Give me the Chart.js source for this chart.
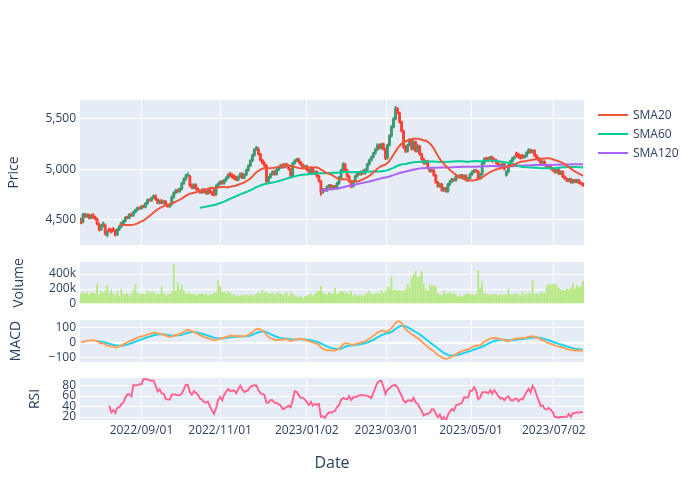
<!DOCTYPE html>
<html>
<head>
<meta charset="utf-8">
<script src="https://cdn.jsdelivr.net/npm/chart.js@4.4.0/dist/chart.umd.min.js"></script>
<style>
  body { margin: 0; background: #fff; }
  #wrap { position: relative; width: 700px; height: 500px; overflow: hidden; }
  #wrap canvas { position: absolute; left: 0; }
  #legend { position: absolute; left: 598px; top: 105px; font: 12px "Open Sans", verdana, arial, sans-serif; color: #2a3f5f; }
  #legend .item { height: 19px; display: flex; align-items: center; }
  #legend .swatch { width: 30px; height: 2px; margin-right: 5px; }
</style>
</head>
<body>
<div id="wrap">
  <canvas id="price" width="700" height="175" style="top:85px"></canvas>
  <canvas id="volume" width="700" height="72" style="top:247px"></canvas>
  <canvas id="macd" width="700" height="72" style="top:305px"></canvas>
  <canvas id="rsi" width="700" height="117" style="top:363px"></canvas>
  <div id="legend"></div>
</div>
<script>
// trading calendar (weekdays minus market holidays)
const firstDay = '2022-07-20';
const lastDay = '2023-07-21';
const holidays = ['2022-08-15', '2022-09-09', '2022-09-12', '2022-10-03', '2022-10-10', '2022-12-30',
  '2023-01-23', '2023-01-24', '2023-03-01', '2023-05-01', '2023-05-05', '2023-05-29', '2023-06-06'];

// daily prices
const opens = [
  4500,4475,4545,4530,4545,4515,4545,4525,4505,4450,
  4400,4435,4445,4345,4405,4400,4405,4390,4350,4400,
  4430,4460,4485,4520,4515,4550,4540,4575,4595,4615,
  4610,4630,4625,4660,4695,4690,4715,4735,4700,4665,
  4685,4665,4680,4645,4630,4650,4720,4765,4790,4780,
  4805,4860,4900,4935,4930,4840,4815,4845,4805,4785,
  4770,4795,4775,4760,4795,4770,4790,4750,4830,4855,
  4875,4860,4890,4915,4960,4945,4935,4920,4895,4925,
  4955,4915,4945,4990,5035,5085,5140,5195,5200,5150,
  5090,5060,5035,4880,4920,4950,4975,4950,4995,5015,
  5040,5020,5050,5030,5000,4930,5060,5085,5100,5070,
  5045,5020,5030,4995,4970,5005,4960,4975,4930,4880,
  4770,4800,4790,4825,4840,4805,4830,4810,4860,4920,
  4990,5050,4990,4930,4880,4830,4880,4930,4960,4950,
  4985,4960,4995,5050,5090,5120,5160,5195,5240,5210,
  5250,5200,5110,5240,5330,5420,5500,5600,5560,5470,
  5380,5220,5180,5240,5290,5200,5270,5180,5230,5150,
  5100,5060,5080,5010,4980,4990,4940,4870,4830,4850,
  4790,4810,4780,4850,4880,4900,4890,4930,4920,4940,
  4915,4935,4890,4910,4950,4975,4990,4980,4910,4950,
  5060,5110,5110,5100,5120,5100,5090,5060,5040,5020,
  5050,4940,4975,5040,5080,5110,5160,5150,5135,5140,
  5120,5130,5165,5190,5170,5185,5135,5110,5090,5060,
  5075,5040,5020,5030,5005,4990,4970,4995,4955,4975,
  4925,4905,4885,4900,4870,4890,4875,4890,4865,4855
];
const highs = [
  4515,4560,4560,4555,4555,4550,4560,4535,4515,4465,
  4450,4475,4455,4395,4415,4410,4420,4400,4410,4440,
  4475,4495,4530,4535,4560,4565,4585,4605,4625,4625,
  4640,4645,4670,4705,4705,4725,4745,4745,4710,4695,
  4700,4690,4690,4655,4660,4735,4775,4800,4805,4815,
  4870,4915,4950,4965,4940,4855,4855,4855,4815,4795,
  4805,4810,4785,4805,4805,4780,4800,4845,4865,4885,
  4890,4900,4925,4955,4970,4955,4945,4930,4935,4965,
  4965,4955,5000,5045,5095,5150,5205,5230,5215,5160,
  5100,5075,5045,4930,4960,4985,4990,5005,5025,5050,
  5055,5060,5060,5040,5010,5070,5095,5110,5110,5080,
  5055,5040,5040,5005,5015,5015,4985,4985,4940,4890,
  4810,4810,4835,4850,4850,4840,4840,4870,4930,5000,
  5065,5060,5000,4940,4890,4890,4940,4970,4970,4985,
  4995,5005,5060,5100,5130,5170,5205,5255,5250,5260,
  5260,5210,5250,5345,5435,5515,5625,5615,5570,5480,
  5390,5235,5250,5305,5300,5285,5280,5245,5240,5160,
  5110,5090,5090,5020,5000,5000,4950,4880,4860,4860,
  4820,4820,4860,4890,4910,4910,4940,4940,4950,4950,
  4945,4945,4920,4960,4985,5000,5000,4990,4960,5075,
  5115,5120,5120,5130,5130,5110,5100,5070,5050,5060,
  5060,4985,5050,5090,5120,5135,5170,5160,5145,5150,
  5140,5175,5205,5200,5195,5195,5145,5120,5100,5085,
  5085,5050,5040,5040,5015,5000,5005,5005,4985,4985,
  4935,4915,4910,4910,4900,4900,4900,4900,4875,4865
];
const lows = [
  4455,4465,4520,4520,4505,4505,4510,4495,4445,4385,
  4390,4425,4345,4330,4375,4365,4380,4335,4340,4390,
  4420,4450,4475,4505,4505,4530,4530,4565,4585,4600,
  4600,4615,4615,4650,4680,4680,4705,4690,4655,4655,
  4655,4655,4635,4620,4620,4640,4710,4755,4770,4770,
  4795,4850,4890,4925,4825,4805,4805,4795,4775,4760,
  4760,4765,4750,4750,4760,4740,4735,4740,4820,4845,
  4850,4850,4880,4905,4925,4910,4895,4885,4885,4915,
  4905,4905,4935,4980,5025,5075,5130,5185,5140,5080,
  5050,5025,4865,4870,4910,4940,4940,4940,4985,5005,
  5010,5010,5020,4990,4915,4920,5050,5075,5060,5035,
  5010,5010,4985,4960,4960,4950,4950,4920,4870,4740,
  4760,4780,4780,4815,4795,4795,4805,4800,4850,4910,
  4980,4980,4920,4870,4815,4820,4870,4920,4940,4940,
  4950,4950,4985,5040,5080,5110,5150,5185,5200,5200,
  5190,5095,5100,5230,5320,5410,5490,5550,5460,5370,
  5205,5165,5170,5230,5190,5190,5170,5170,5140,5090,
  5050,5050,5000,4970,4970,4930,4860,4820,4820,4780,
  4780,4770,4770,4840,4870,4880,4880,4910,4910,4905,
  4905,4880,4880,4900,4940,4965,4970,4900,4900,4940,
  5050,5080,5075,5090,5070,5080,5050,5030,5010,5010,
  4990,4930,4965,5030,5070,5100,5120,5110,5100,5105,
  5110,5120,5155,5160,5160,5125,5100,5080,5050,5050,
  5030,5010,5010,4995,4980,4960,4960,4945,4945,4915,
  4895,4875,4875,4860,4860,4865,4865,4855,4845,4830
];
const closes = [
  4470,4550,4530,4545,4515,4540,4520,4505,4455,4400,
  4440,4460,4360,4380,4385,4375,4390,4345,4400,4430,
  4465,4485,4520,4515,4550,4540,4575,4595,4615,4610,
  4630,4625,4660,4695,4690,4715,4735,4700,4665,4685,
  4665,4680,4645,4630,4650,4720,4765,4790,4780,4805,
  4860,4900,4935,4950,4840,4815,4845,4805,4785,4770,
  4795,4775,4760,4795,4770,4750,4745,4830,4855,4875,
  4860,4890,4915,4945,4935,4920,4905,4895,4925,4955,
  4915,4945,4990,5035,5085,5140,5195,5215,5150,5090,
  5060,5035,4880,4920,4950,4975,4950,4995,5015,5040,
  5020,5050,5030,5000,4930,5060,5085,5100,5070,5045,
  5020,5030,4995,4970,5005,4960,4975,4930,4880,4770,
  4800,4790,4825,4840,4805,4830,4815,4860,4920,4990,
  5050,4990,4930,4880,4830,4880,4930,4960,4950,4975,
  4960,4995,5050,5090,5120,5160,5195,5240,5210,5250,
  5200,5110,5240,5330,5420,5500,5600,5560,5470,5380,
  5220,5180,5240,5290,5200,5270,5180,5230,5150,5100,
  5060,5080,5010,4980,4990,4940,4870,4830,4850,4790,
  4810,4780,4850,4880,4900,4890,4930,4920,4940,4915,
  4935,4890,4910,4950,4975,4990,4980,4910,4950,5060,
  5100,5090,5085,5120,5080,5090,5060,5040,5020,5050,
  5000,4975,5040,5080,5110,5120,5130,5120,5110,5115,
  5130,5165,5190,5170,5185,5135,5110,5090,5060,5075,
  5040,5020,5030,5005,4990,4970,4995,4955,4975,4925,
  4905,4885,4900,4870,4890,4875,4890,4865,4855,4840
];
// daily volume, thousands of shares
const volumes = [
  140,155,130,160,120,145,150,135,265,120,
  170,150,175,245,130,190,135,120,160,110,
  195,130,125,140,110,135,190,265,150,120,
  140,130,125,180,145,150,165,120,140,125,
  230,140,120,115,135,160,525,170,290,190,
  250,175,130,150,135,120,140,110,125,130,
  140,120,135,110,125,120,145,150,310,230,
  150,165,140,160,155,115,125,100,110,105,
  120,115,125,105,130,110,120,135,150,140,
  185,145,160,130,140,150,120,135,155,140,
  110,130,150,100,155,130,110,95,90,105,
  80,95,110,120,135,105,130,160,175,235,
  145,130,120,155,135,140,210,130,150,170,
  160,145,150,125,175,110,130,100,115,120,
  105,120,140,165,130,125,140,150,130,185,
  140,170,230,200,360,180,190,175,185,170,
  180,195,270,215,345,390,440,350,370,435,
  265,190,175,260,240,245,230,130,125,115,
  175,130,140,155,125,150,120,100,110,95,
  115,130,140,125,135,115,130,450,205,300,
  140,130,125,115,125,130,120,110,130,115,
  120,125,200,130,125,130,140,120,110,165,
  125,130,150,135,310,130,140,120,155,150,
  145,240,260,255,265,260,250,205,190,185,
  175,200,190,215,270,200,245,215,235,305
];

// axis ticks
const dateTicks = ['2022/09/01', '2022/11/01', '2023/01/02', '2023/03/01', '2023/05/01', '2023/07/02'];
const priceTicks = [4500, 5000, 5500];
const volumeTicks = [0, 200, 400];
const macdTicks = [-100, 0, 100];
const rsiTicks = [20, 40, 60, 80];

const UP = '#3D9970', DOWN = '#FF4136';

function tradingDays(from, to, skip) {
  const out = [];
  const d = new Date(from + 'T00:00:00Z');
  const end = new Date(to + 'T00:00:00Z');
  while (d <= end) {
    const iso = d.toISOString().slice(0, 10);
    const wd = d.getUTCDay();
    if (wd !== 0 && wd !== 6 && !skip.includes(iso)) out.push(iso);
    d.setUTCDate(d.getUTCDate() + 1);
  }
  return out;
}
const dates = tradingDays(firstDay, lastDay, holidays);

// tick sits on its date, or halfway into the gap when the market was shut
const tickPos = dateTicks.map(t => {
  const iso = t.replace(/\//g, '-');
  const i = dates.findIndex(d => d >= iso);
  return dates[i] === iso ? i : i - 0.5;
});

// indicators
const sma = n => closes.map((_, i) => i < n - 1 ? null :
  closes.slice(i - n + 1, i + 1).reduce((a, b) => a + b, 0) / n);
const ema = (arr, span) => {
  const k = 2 / (span + 1), out = [];
  arr.forEach((v, i) => out.push(i === 0 ? v : v * k + out[i - 1] * (1 - k)));
  return out;
};
const ema12 = ema(closes, 12), ema26 = ema(closes, 26);
const macd = closes.map((_, i) => ema12[i] - ema26[i]);
const signal = ema(macd, 9).map((v, i) => i < 8 ? null : v);
const rsi = closes.map((_, i) => {
  if (i < 14) return null;
  let g = 0, l = 0;
  for (let j = i - 13; j <= i; j++) {
    const d = closes[j] - closes[j - 1];
    if (d > 0) g += d; else l -= d;
  }
  return l === 0 ? 100 : 100 - 100 / (1 + g / l);
});

const pts = arr => arr.map((v, i) => ({ x: i, y: v }));
const candleColors = closes.map((c, i) => c >= opens[i] ? UP : DOWN);

// --- chart setup ---
Chart.defaults.font.family = '"Open Sans", verdana, arial, sans-serif';
Chart.defaults.font.size = 12;
Chart.defaults.color = '#2a3f5f';
Chart.defaults.animation = false;
Chart.defaults.responsive = false;
Chart.defaults.plugins.legend.display = false;
Chart.defaults.plugins.tooltip.enabled = false;

Chart.register({
  id: 'plotBg',
  beforeDraw(chart) {
    const { ctx, chartArea: a } = chart;
    ctx.save();
    ctx.fillStyle = '#E5ECF6';
    ctx.fillRect(a.left, a.top, a.right - a.left, a.bottom - a.top);
    ctx.restore();
  }
});

const lastIdx = closes.length - 1;
function xScale(showLabels) {
  const s = {
    type: 'linear', min: -0.5, max: lastIdx + 0.5, offset: false,
    afterBuildTicks: sc => { sc.ticks = tickPos.map(v => ({ value: v })); },
    grid: { color: '#fff', lineWidth: 1, drawTicks: false, offset: false },
    border: { display: false },
    ticks: { display: showLabels, autoSkip: false, maxRotation: 0, padding: 3,
      callback: (v, i) => dateTicks[i] },
    title: { display: showLabels, text: 'Date', font: { size: 16 }, padding: { top: 0, bottom: 7 } }
  };
  if (showLabels) s.afterFit = sc => { sc.height = 60; };
  return s;
}
function yScale(min, max, ticks, fmt, title, titlePad, zero) {
  return {
    min, max,
    afterBuildTicks: sc => { sc.ticks = ticks.map(v => ({ value: v })); },
    afterFit: sc => { sc.width = 80; },
    grid: { color: '#fff', drawTicks: false,
      lineWidth: c => (zero && c.tick && c.tick.value === 0) ? 2 : 1 },
    border: { display: false },
    ticks: { padding: 4, autoSkip: false, callback: fmt },
    title: { display: true, text: title, font: { size: 14 }, padding: { top: titlePad, bottom: 0 } }
  };
}
const pad = bottom => ({ left: 0, right: 116, top: 15, bottom });
const line = (label, data, color) => ({
  type: 'line', label, data: pts(data), borderColor: color, backgroundColor: color,
  borderWidth: 2, pointRadius: 0, tension: 0, order: 0
});

const priceChart = new Chart(document.getElementById('price'), {
  type: 'line',
  data: {
    datasets: [
      line('SMA20', sma(20), '#EF553B'),
      line('SMA60', sma(60), '#00CC96'),
      line('SMA120', sma(120), '#AB63FA'),
      { type: 'bar', label: 'body', data: closes.map((c, i) => ({ x: i, y: [opens[i], c] })),
        backgroundColor: candleColors, barThickness: 2.2, grouped: false, minBarLength: 1, order: 1 },
      { type: 'bar', label: 'wick', data: closes.map((c, i) => ({ x: i, y: [lows[i], highs[i]] })),
        backgroundColor: candleColors, barThickness: 1.2, grouped: false, order: 2 }
    ]
  },
  options: {
    layout: { padding: pad(15) },
    scales: {
      x: xScale(false),
      y: yScale(4246, 5689, priceTicks, v => v.toLocaleString('en-US'), 'Price', 5.6, false)
    }
  }
});

new Chart(document.getElementById('volume'), {
  type: 'bar',
  data: { datasets: [{ label: 'Volume', data: pts(volumes), backgroundColor: '#B6E880', barThickness: 1.2 }] },
  options: {
    layout: { padding: pad(15) },
    scales: {
      x: xScale(false),
      y: yScale(0, 560, volumeTicks, v => v === 0 ? '0' : v + 'k', 'Volume', 10.6, true)
    }
  }
});

new Chart(document.getElementById('macd'), {
  type: 'line',
  data: { datasets: [line('MACD', macd, '#FFA15A'), line('Signal', signal, '#19D3F3')] },
  options: {
    layout: { padding: pad(15) },
    scales: {
      x: xScale(false),
      y: yScale(-129, 151, macdTicks, v => v < 0 ? '\u2212' + Math.abs(v) : String(v), 'MACD', 7.6, true)
    }
  }
});

new Chart(document.getElementById('rsi'), {
  type: 'line',
  data: { datasets: [line('RSI', rsi, '#FF6692')] },
  options: {
    layout: { padding: pad(0) },
    scales: {
      x: xScale(true),
      y: yScale(14.3, 94.3, rsiTicks, v => String(v), 'RSI', 26.6, false)
    }
  }
});

// legend for the moving averages
const legend = document.getElementById('legend');
priceChart.data.datasets.filter(d => d.type === 'line').forEach(d => {
  const row = document.createElement('div');
  row.className = 'item';
  row.innerHTML = `<span class="swatch" style="background:${d.borderColor}"></span><span>${d.label}</span>`;
  legend.appendChild(row);
});
</script>
</body>
</html>
